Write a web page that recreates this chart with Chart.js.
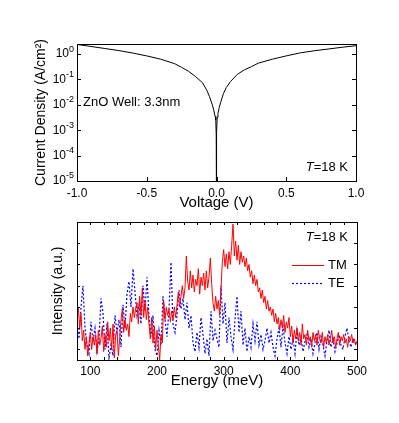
<!DOCTYPE html>
<html>
<head>
<meta charset="utf-8">
<script src="https://cdn.jsdelivr.net/npm/chart.js@4.4.1/dist/chart.umd.min.js"></script>
<style>
body{margin:0;background:#fff;}
#wrap{position:relative;width:399px;height:423px;}
canvas{position:absolute;left:0;}
#ivChart{top:0;}
#plChart{top:208px;}
</style>
</head>
<body>
<div id="wrap">
<canvas id="ivChart" width="399" height="215"></canvas>
<canvas id="plChart" width="399" height="185"></canvas>
</div>
<script>
// top panel: I-V curve
var voltage = [-1.0,-0.9,-0.8,-0.7,-0.6,-0.5,-0.4,-0.3,-0.25,-0.2,-0.15,-0.1,-0.07,-0.05,-0.03,-0.02,-0.01,-0.005,-0.002,-0.001,0,
	0.001,0.002,0.005,0.01,0.02,0.03,0.05,0.07,0.1,0.15,0.2,0.25,0.3,0.4,0.5,0.6,0.7,0.8,0.9,1.0];
var current = [2.4,2.0,1.66,1.38,1.1,0.85,0.63,0.42,0.30,0.21,0.13,0.074,0.038,0.021,0.01,0.0063,0.0035,0.0025,6.3e-4,1.6e-4,1e-7,
	1.6e-4,8e-4,0.0032,0.0045,0.008,0.0126,0.028,0.048,0.083,0.16,0.24,0.32,0.44,0.63,0.85,1.12,1.35,1.58,1.86,2.14];
var decades = [1e-5,1e-4,1e-3,1e-2,1e-1,1];

// bottom panel: spectra (TM read every 2 meV, TE every 3 meV)
var energyTM = [80,82,84,86,88,90,92,94,96,98,100,102,104,106,108,110,112,114,116,118,120,122,124,126,128,130,132,134,136,138,
	140,142,144,146,148,150,152,154,156,158,160,162,164,166,168,170,172,174,176,178,180,182,184,186,188,190,192,194,196,198,
	200,202,204,206,208,210,212,214,216,218,220,222,224,226,228,230,232,234,236,238,240,242,244,246,248,250,252,254,256,258,
	260,262,264,266,268,270,272,274,276,278,280,282,284,286,288,290,292,294,296,298,300,302,304,306,308,310,312,314,316,318,
	320,322,324,326,328,330,332,334,336,338,340,342,344,346,348,350,352,354,356,358,360,362,364,366,368,370,372,374,376,378,
	380,382,384,386,388,390,392,394,396,398,400,402,404,406,408,410,412,414,416,418,420,422,424,426,428,430,432,434,436,438,
	440,442,444,446,448,450,452,454,456,458,460,462,464,466,468,470,472,474,476,478,480,482,484,486,488,490,492,494,496,498,500];
var tm = [2.6,3.0,2.0,2.7,1.4, 1.9,1.0,1.6,0.7,1.3, 1.8,1.0,1.6,1.2,1.7, 0.8,1.9,1.2,1.5,2.1, 0.9,1.7,1.1,2.3,1.4,
	2.0,1.0,2.2,0.6,1.7, 1.9,0.7,1.5,2.4,2.9, 1.8,2.4,1.9,2.2,1.6, 2.7,2.3,3.0,2.5,2.9, 3.2,2.2,3.5,2.6,3.9,
	2.5,3.3,2.4,3.0,2.2, 1.5,2.5,1.3,2.1,1.0, 1.9,1.2,0.5,1.7,1.3, 3.3,2.4,3.0,2.6,2.9, 2.3,2.8,2.4,3.0,2.5,
	3.1,3.7,3.0,3.5,4.0, 3.4,3.9,5.4,4.2,3.8, 4.7,3.9,4.5,3.7,4.3, 4.0,4.8,3.6,4.4,4.0, 4.6,3.8,4.7,3.9,4.4,
	5.3,4.1,3.2,2.8,3.5, 2.9,3.3,2.6,3.9,5.1, 5.7,4.9,5.5,4.8,5.6, 5.0,5.9,6.9,5.4,6.1, 5.2,5.9,5.0,5.6,5.1,
	5.4,4.9,5.3,4.7,5.0, 4.4,4.7,4.1,4.5,4.0, 4.3,3.7,3.9,3.4,3.8, 3.2,3.5,2.9,3.3,2.8, 3.0,2.6,2.9,2.3,2.7,
	2.2,2.5,1.9,2.4,2.0, 2.6,1.8,2.3,2.0,2.5, 1.6,2.1,1.3,1.9,1.5, 2.0,1.4,1.8,1.2,2.2, 1.5,1.7,1.2,1.9,1.4,
	1.6,1.1,1.8,1.4,1.7, 1.2,1.9,1.5,1.3,1.8, 1.1,1.6,1.3,1.7,1.2, 1.5,1.9,1.3,1.6,1.1, 1.5,1.8,1.2,1.6,1.4,
	1.7,1.3,1.5,1.1,1.6, 1.4,1.7,1.3,1.5,1.2, 1.4];
var energyTE = [80,83,86,89,92,95,98,101,104,107,110,113,116,119,122,125,128,131,134,137,140,143,146,149,152,155,158,161,164,167,170,
	173,176,179,182,185,188,191,194,197,200,203,206,209,212,215,218,221,224,227,230,233,236,239,242,245,248,251,254,257,260,263,266,
	269,272,275,278,281,284,287,290,293,296,299,302,305,308,311,314,317,320,323,326,329,332,335,338,341,344,347,350,353,356,359,362,
	365,368,371,374,377,380,383,386,389,392,395,398,401,404,407,410,413,416,419,422,425,428,431,434,437,440,443,446,449,452,455,458,
	461,464,467,470,473,476,479,482,485,488,491,494,497,500];
var te = [2.2,1.5,3.0,4.0,2.0,1.2,
	0.8,2.3,1.4,2.0,0.9,1.5,3.4,2.7,1.0,2.2,
	0.6,1.2,0.7,2.6,1.8,2.4,1.1,3.1,
	2.0,3.6,4.2,3.0,4.8,3.7,2.6,
	3.1,2.2,4.0,2.8,4.4,2.5,
	1.6,2.6,1.0,0.7,1.9,1.2,3.5,
	2.4,1.6,2.9,5.1,2.2,1.8,2.6,
	3.8,2.9,3.4,2.4,3.2,
	2.0,2.6,1.3,0.9,1.8,1.1,2.5,1.7,0.8,1.5,0.7,
	2.8,1.4,1.9,1.5,1.1,
	4.0,2.2,3.2,1.3,2.5,1.6,
	1.0,2.4,3.5,1.8,2.8,1.2,
	2.0,0.9,1.6,1.1,2.2,1.4,2.3,
	1.2,1.7,1.0,1.4,2.0,1.3,1.8,
	1.1,0.7,1.5,2.0,1.1,2.1,1.3,0.8,1.6,
	1.0,1.5,0.8,1.9,1.2,1.6,0.9,1.4,1.7,1.1,1.5,0.8,1.3,1.8,1.0,1.6,1.2,0.7,1.4,1.9,1.1,1.5,0.9,1.3,1.7,1.2,1.0,1.6,2.0,1.4,1.1,1.5,1.3,1.2];
var intensityTicks = [1,2,3,4,5,6];

var FONT = '"Liberation Sans", Arial, sans-serif';
Chart.defaults.font.family = FONT;
Chart.defaults.color = '#000';

// box round the plot area plus small inward ticks
var frameTicks = {
	id: 'frameTicks',
	afterDraw: function(chart, args, opts) {
		var ctx = chart.ctx, a = chart.chartArea, xs = chart.scales.x, ys = chart.scales.y;
		ctx.save();
		ctx.strokeStyle = '#000';
		ctx.lineWidth = 1;
		ctx.beginPath();
		xs.ticks.forEach(function(t){
			var px = Math.round(xs.getPixelForValue(t.value)) + 0.5;
			ctx.moveTo(px, a.bottom); ctx.lineTo(px, a.bottom - opts.len);
			if (opts.topTicks) { ctx.moveTo(px, a.top); ctx.lineTo(px, a.top + opts.len); }
		});
		ys.ticks.forEach(function(t){
			var py = Math.round(ys.getPixelForValue(t.value)) + 0.5;
			ctx.moveTo(a.left, py); ctx.lineTo(a.left + opts.len, py);
			ctx.moveTo(a.right, py); ctx.lineTo(a.right - opts.len, py);
		});
		ctx.stroke();
		ctx.strokeRect(Math.round(a.left) + 0.5, Math.round(a.top) + 0.5, Math.round(a.right - a.left), Math.round(a.bottom - a.top));
		ctx.restore();
	}
};

function drawTemp(ctx, right, y) {
	ctx.fillStyle = '#000';
	ctx.font = '13px ' + FONT;
	ctx.textBaseline = 'middle';
	ctx.textAlign = 'right';
	ctx.fillText('=18 K', right, y);
	var w = ctx.measureText('=18 K').width;
	ctx.font = 'italic 13px ' + FONT;
	ctx.fillText('T', right - w, y);
}

var ivText = {
	id: 'ivText',
	afterDraw: function(chart) {
		var ctx = chart.ctx, ys = chart.scales.y, a = chart.chartArea;
		ctx.save();
		ctx.fillStyle = '#000';
		ys.ticks.forEach(function(t){
			var py = ys.getPixelForValue(t.value);
			var ex = String(Math.round(Math.log10(t.value)));
			ctx.textAlign = 'right';
			ctx.textBaseline = 'middle';
			ctx.font = '9px ' + FONT;
			ctx.fillText(ex, a.left - 3, py - 5);
			var w = ctx.measureText(ex).width;
			ctx.font = '12px ' + FONT;
			ctx.fillText('10', a.left - 3 - w, py);
		});
		ctx.textAlign = 'left';
		ctx.textBaseline = 'middle';
		ctx.font = '13px ' + FONT;
		ctx.fillText('ZnO Well: 3.3nm', a.left + 6, 102);
		drawTemp(ctx, a.right - 8, 167);
		ctx.restore();
	}
};

var plText = {
	id: 'plText',
	afterDraw: function(chart) {
		var ctx = chart.ctx, a = chart.chartArea;
		ctx.save();
		drawTemp(ctx, a.right - 9, a.top + 15);
		chart.data.datasets.forEach(function(ds, i){
			var y = Math.round(a.top + 43 + i * 18) + 0.5;
			ctx.strokeStyle = ds.borderColor;
			ctx.lineWidth = ds.borderWidth;
			ctx.setLineDash(ds.borderDash || []);
			ctx.beginPath();
			ctx.moveTo(a.left + 215, y);
			ctx.lineTo(a.left + 247, y);
			ctx.stroke();
			ctx.font = '13px ' + FONT;
			ctx.textAlign = 'left';
			ctx.textBaseline = 'middle';
			ctx.fillStyle = '#000';
			ctx.fillText(ds.label, a.left + 251, y);
		});
		ctx.restore();
	}
};

new Chart(document.getElementById('ivChart'), {
	type: 'line',
	data: {
		datasets: [{
			data: voltage.map(function(v, i){ return {x: v, y: current[i]}; }),
			borderColor: '#000', borderWidth: 1, pointRadius: 0, tension: 0
		}]
	},
	options: {
		responsive: false, animation: false, devicePixelRatio: 1,
		layout: {padding: {left: 0, right: 43, top: 44, bottom: 0}},
		plugins: {legend: {display: false}, tooltip: {enabled: false}, frameTicks: {len: 4, topTicks: false}},
		scales: {
			x: {
				type: 'linear', min: -1, max: 1,
				grid: {display: false, drawTicks: false}, border: {display: false},
				ticks: {stepSize: 0.5, padding: 5, font: {size: 12}, maxRotation: 0,
					callback: function(v){ return (Math.abs(v) < 1e-9 ? 0 : v).toFixed(1); }},
				title: {display: true, text: 'Voltage (V)', font: {size: 15}, padding: {top: 0, bottom: 3}},
				afterFit: function(s){ s.height = 34; }
			},
			y: {
				type: 'logarithmic', min: 1e-5, max: 2.5,
				grid: {display: false, drawTicks: false}, border: {display: false},
				ticks: {display: false},
				afterBuildTicks: function(s){ s.ticks = decades.map(function(v){ return {value: v}; }); },
				title: {display: true, text: 'Current Density (A/cm²)', font: {size: 14}, padding: {top: 33, bottom: 0}},
				afterFit: function(s){ s.width = 77; }
			}
		}
	},
	plugins: [frameTicks, ivText]
});

new Chart(document.getElementById('plChart'), {
	type: 'line',
	data: {
		datasets: [
			{label: 'TM', data: energyTM.map(function(e, i){ return {x: e, y: tm[i]}; }),
				borderColor: '#ff0000', borderWidth: 1, pointRadius: 0},
			{label: 'TE', data: energyTE.map(function(e, i){ return {x: e, y: te[i]}; }),
				borderColor: '#0000ff', borderWidth: 1.2, borderDash: [2, 2], pointRadius: 0}
		]
	},
	options: {
		responsive: false, animation: false, devicePixelRatio: 1,
		layout: {padding: {left: 0, right: 42, top: 14, bottom: 0}},
		plugins: {legend: {display: false}, tooltip: {enabled: false}, frameTicks: {len: 3, topTicks: true}},
		scales: {
			x: {
				type: 'linear', min: 80, max: 500,
				grid: {display: false, drawTicks: false}, border: {display: false},
				ticks: {stepSize: 20, padding: 4, autoSkip: false, maxRotation: 0, font: {size: 12},
					callback: function(v){ return v % 100 === 0 ? String(v) : ''; }},
				title: {display: true, text: 'Energy (meV)', font: {size: 15}, padding: {top: 0, bottom: 3}},
				afterFit: function(s){ s.height = 33; }
			},
			y: {
				type: 'linear', min: 0.5, max: 7,
				grid: {display: false, drawTicks: false}, border: {display: false},
				ticks: {display: false},
				afterBuildTicks: function(s){ s.ticks = intensityTicks.map(function(v){ return {value: v}; }); },
				title: {display: true, text: 'Intensity (a.u.)', font: {size: 14}, padding: {top: 50, bottom: 0}},
				afterFit: function(s){ s.width = 77; }
			}
		}
	},
	plugins: [frameTicks, plText]
});
</script>
</body>
</html>
